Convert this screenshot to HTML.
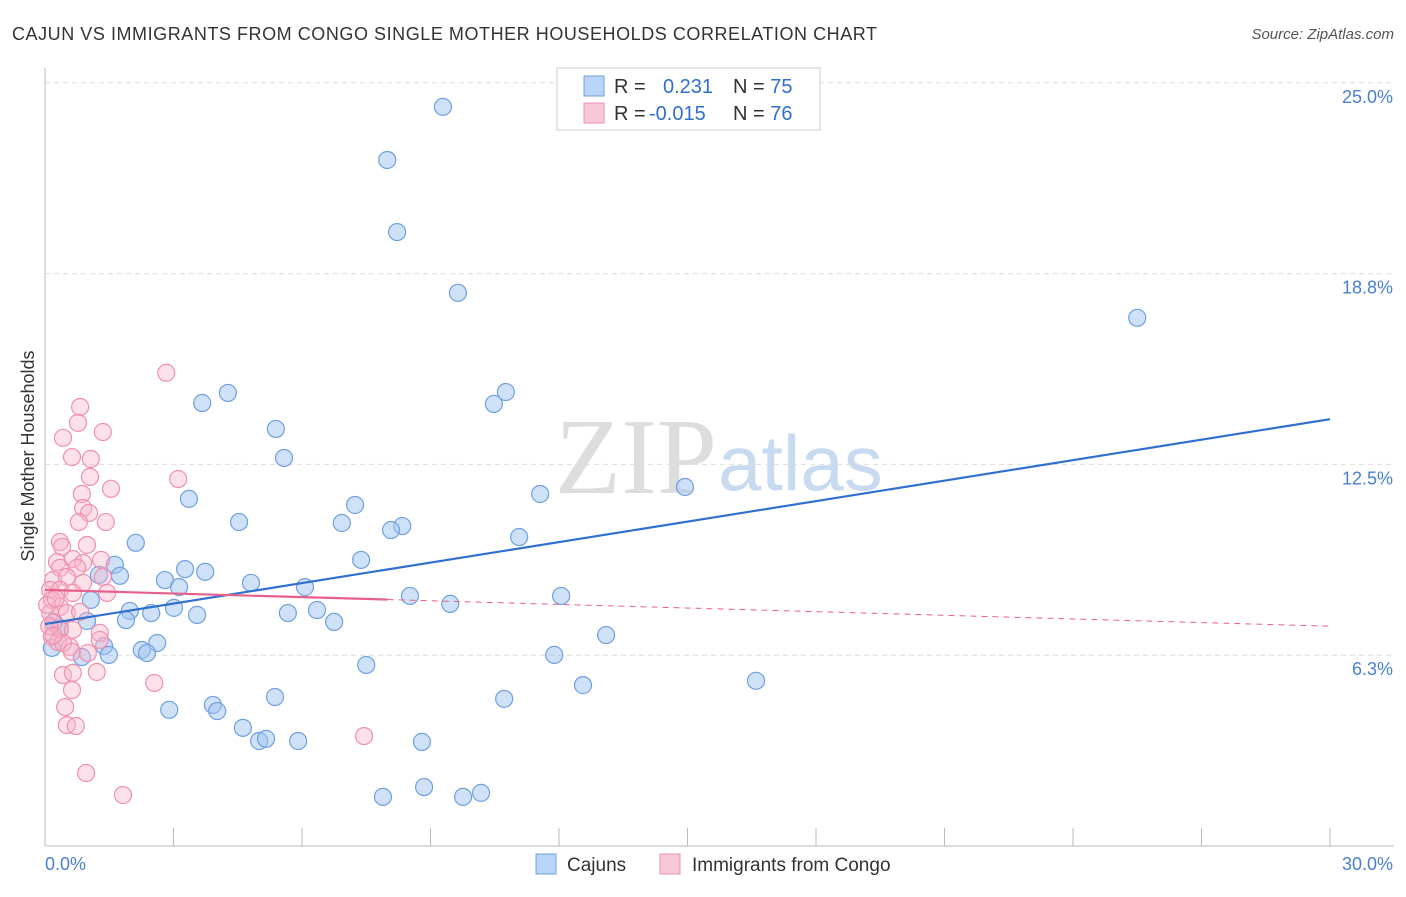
<!DOCTYPE html>
<html><head><meta charset="utf-8"><style>
body{margin:0;background:#fff;font-family:"Liberation Sans",sans-serif}
#wrap{position:relative;width:1406px;height:892px}
</style></head><body>
<div id="wrap">
<svg id="svg" width="1406" height="892" xmlns="http://www.w3.org/2000/svg">
<text x="12" y="40" font-size="18" letter-spacing="0.55" fill="#333">CAJUN VS IMMIGRANTS FROM CONGO SINGLE MOTHER HOUSEHOLDS CORRELATION CHART</text>
<text x="1394" y="39" font-size="15" fill="#555" text-anchor="end" font-style="italic">Source: ZipAtlas.com</text>
<text x="34" y="456" font-size="18" fill="#333" text-anchor="middle" transform="rotate(-90 34 456)">Single Mother Households</text>
<text x="555" y="493" font-size="108" fill="#ddd" font-family="Liberation Serif,serif">ZIP</text>
<text x="718" y="490" font-size="78" fill="#c8daf0">atlas</text>
<g id="grid"></g><g id="marks"></g>
<g>
<rect x="557" y="68" width="263" height="62" fill="#fff" stroke="#ccc"/>
<rect x="584" y="76" width="20" height="20" fill="#b8d4f6" stroke="#6fa0e0"/>
<rect x="584" y="103" width="20" height="20" fill="#f9c8d6" stroke="#f090b0"/>
<text x="614" y="93" font-size="20" fill="#333">R = <tspan fill="#2f6fd0" x="663">0.231</tspan><tspan x="733" fill="#333">N = </tspan><tspan fill="#2f6fd0">75</tspan></text>
<text x="614" y="120" font-size="20" fill="#333">R = <tspan fill="#2f6fd0" x="649">-0.015</tspan><tspan x="733" fill="#333">N = </tspan><tspan fill="#2f6fd0">76</tspan></text>
</g>
<g>
<rect x="536" y="854" width="20" height="20" fill="#b8d4f6" stroke="#6fa0e0"/>
<text x="567" y="871" font-size="19" fill="#333">Cajuns</text>
<rect x="660" y="854" width="20" height="20" fill="#f9c8d6" stroke="#f090b0"/>
<text x="692" y="871" font-size="19" fill="#333">Immigrants from Congo</text>
</g>
<text x="45" y="870" font-size="18" fill="#4a80d0">0.0%</text>
<text x="1393" y="870" font-size="18" fill="#4a80d0" text-anchor="end">30.0%</text>
</svg></div>
<script>
const blueX=[9.29,7.99,8.22,9.64,25.5,10.76,10.48,4.27,3.67,5.39,5.58,14.94,11.56,3.36,7.24,4.53,6.93,8.34,8.08,11.07,2.12,1.63,7.38,3.27,3.74,1.26,1.75,2.8,4.81,3.13,6.07,8.52,12.05,1.07,9.46,1.98,2.48,3.01,3.55,5.67,6.35,1.89,0.98,6.75,0.35,0.21,13.1,2.62,1.38,0.16,2.26,2.38,1.49,0.86,11.89,7.5,16.6,12.56,5.37,10.72,3.92,2.9,4.02,4.62,5.0,5.16,5.91,8.8,8.85,7.89,9.76,10.18];
const blueY=[24.21,22.47,20.11,18.12,17.3,14.87,14.48,14.84,14.51,13.66,12.71,11.76,11.53,11.37,11.17,10.61,10.58,10.48,10.35,10.12,9.93,9.21,9.37,9.07,8.98,8.88,8.85,8.71,8.62,8.48,8.48,8.19,8.19,8.06,7.93,7.7,7.63,7.8,7.57,7.63,7.73,7.4,7.37,7.34,7.14,7.34,6.91,6.65,6.55,6.49,6.42,6.32,6.26,6.19,6.26,5.93,5.41,5.27,4.88,4.82,4.62,4.46,4.42,3.87,3.44,3.51,3.44,3.41,1.93,1.61,1.61,1.74];
const pinkX=[2.83,0.82,0.77,0.42,1.35,0.63,1.07,1.05,3.11,1.54,0.86,0.89,1.03,0.79,1.42,0.35,0.4,0.98,0.28,0.65,0.89,1.31,0.35,0.75,0.19,0.51,0.89,1.35,0.12,0.35,0.65,1.45,0.16,0.35,0.12,0.51,0.82,0.19,0.35,0.65,0.16,1.28,0.3,1.28,0.58,0.42,0.63,1.0,0.42,0.65,1.21,2.55,0.63,0.47,0.51,0.72,0.96,1.82,7.45,0.05,0.1,0.25,0.2];
const pinkY=[15.5,14.38,13.86,13.37,13.56,12.74,12.68,12.09,12.02,11.7,11.53,11.07,10.91,10.61,10.61,9.96,9.8,9.86,9.3,9.4,9.27,9.37,9.11,9.11,8.71,8.81,8.62,8.81,8.39,8.39,8.29,8.29,8.06,7.83,7.63,7.63,7.67,7.31,7.08,7.08,6.85,6.98,6.68,6.75,6.52,6.65,6.36,6.32,5.6,5.67,5.7,5.34,5.11,4.55,3.96,3.93,2.39,1.67,3.6,7.9,7.2,8.1,6.9];
const yTicks=[25,18.8,12.5,6.3];
const yGrid=[25,18.75,12.5,6.25];
const blueTrend=[7.27,0.2237];
const pinkTrend=[8.39,-0.0397];
const X=v=>45+v/30*1285, Y=v=>846-v*30.53;
const NS="http://www.w3.org/2000/svg";
function mk(t,a,p){const e=document.createElementNS(NS,t);for(const k in a)e.setAttribute(k,a[k]);p.appendChild(e);return e;}
const grid=document.getElementById('grid'),marks=document.getElementById('marks');
yGrid.forEach((v,i)=>{const l=mk('line',{x1:45,x2:1394,y1:Y(v),y2:Y(v),stroke:'#ddd','stroke-dasharray':'5,4'},grid);


const t=mk('text',{x:1393,y:Y(v)+20,'font-size':18,fill:'#4a80d0','text-anchor':'end'},grid);t.textContent=yTicks[i].toFixed(1)+'%';

});
const ax=mk('line',{x1:45,x2:45,y1:68,y2:846,stroke:'#bbb'},grid);


const bx=mk('line',{x1:45,x2:1394,y1:846,y2:846,stroke:'#bbb'},grid);


for(let i=1;i<=10;i++){const t=mk('line',{x1:X(i*3),x2:X(i*3),y1:828,y2:846,stroke:'#bbb'},grid);

}
blueX.forEach((v,i)=>{const c=mk('circle',{cx:X(v),cy:Y(blueY[i]),r:8.5,fill:'rgba(160,196,240,0.5)',stroke:'#6fa0e0','stroke-width':1.2},marks);

});
pinkX.forEach((v,i)=>{const c=mk('circle',{cx:X(v),cy:Y(pinkY[i]),r:8.5,fill:'rgba(248,180,200,0.4)',stroke:'#f090b0','stroke-width':1.2},marks);

});
const bl=mk('line',{x1:X(0),y1:Y(blueTrend[0]),x2:X(30),y2:Y(blueTrend[0]+30*blueTrend[1]),stroke:'#2f6fd0','stroke-width':2.2},marks);


const pl=mk('line',{x1:X(0),y1:Y(pinkTrend[0]),x2:X(8),y2:Y(pinkTrend[0]+8*pinkTrend[1]),stroke:'#e8608a','stroke-width':2.2},marks);


const pd=mk('line',{x1:X(8),y1:Y(pinkTrend[0]+8*pinkTrend[1]),x2:X(30),y2:Y(pinkTrend[0]+30*pinkTrend[1]),stroke:'#e8608a','stroke-width':1,'stroke-dasharray':'6,5'},marks);


</script></body></html>
